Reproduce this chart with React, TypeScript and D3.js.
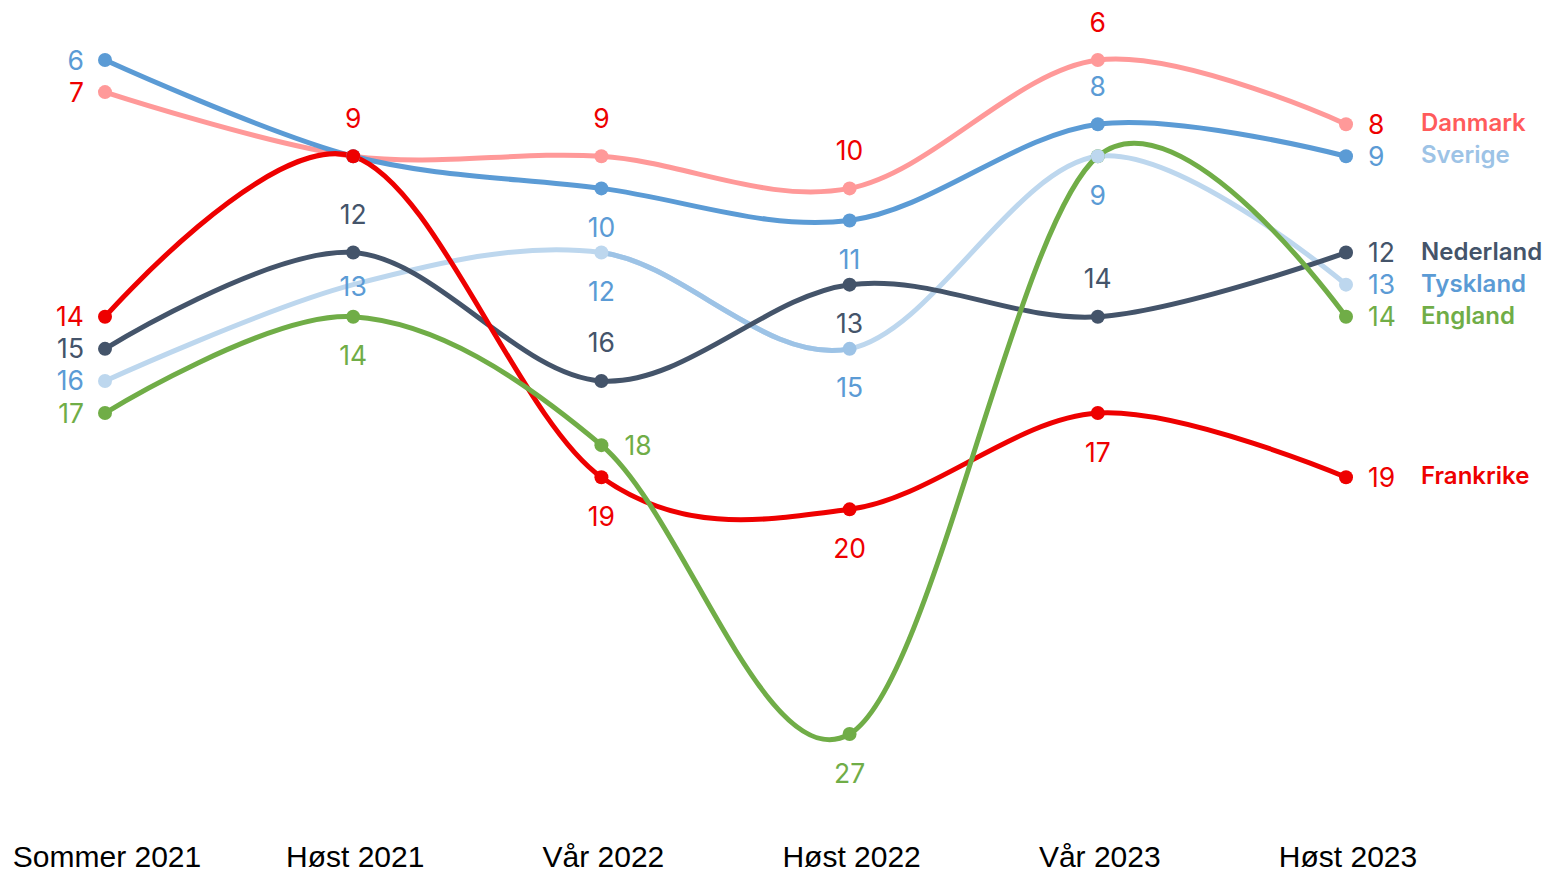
import React from "react";
import * as d3 from "d3";

const periods = ["Sommer 2021", "Høst 2021", "Vår 2022", "Høst 2022", "Vår 2023", "Høst 2023"];

const danmark = [7, 9, 9, 10, 6, 8];
const sverige = [6, 9, 10, 11, 8, 9];
const tyskland = [16, 13, 12, 15, 9, 13];
const nederland = [15, 12, 16, 13, 14, 12];
const england = [17, 14, 18, 27, 9, 14];
const frankrike = [14, 9, 19, 20, 17, 19];

type Pos = "left" | "right" | "above" | "below" | "center" | "none";

interface Series {
  name: string;
  values: number[];
  line: string;
  label: string;
  legend: string;
  pos: Pos[];
  markers: boolean[];
}

const series: Series[] = [
  { name: "Danmark", values: danmark, line: "#ff9999", label: "#ee0000", legend: "#ff5b5b",
    pos: ["left", "none", "above", "above", "above", "right"], markers: [true, true, true, true, true, true] },
  { name: "Sverige", values: sverige, line: "#5b9bd5", label: "#5b9bd5", legend: "#9dc3e6",
    pos: ["left", "none", "below", "below", "above", "right"], markers: [true, true, true, true, true, true] },
  { name: "Tyskland", values: tyskland, line: "#bdd7ee", label: "#5b9bd5", legend: "#5b9bd5",
    pos: ["left", "center", "below", "below", "below", "right"], markers: [true, false, true, true, true, true] },
  { name: "Nederland", values: nederland, line: "#44546a", label: "#44546a", legend: "#44546a",
    pos: ["left", "above", "above", "below", "above", "right"], markers: [true, true, true, true, true, true] },
  { name: "Frankrike", values: frankrike, line: "#ee0000", label: "#ee0000", legend: "#ee0000",
    pos: ["left", "above", "below", "below", "below", "right"], markers: [true, true, true, true, true, true] },
  { name: "England", values: england, line: "#70ad47", label: "#70ad47", legend: "#70ad47",
    pos: ["left", "below", "right", "below", "none", "right"], markers: [true, true, true, true, true, true] },
];

const pointOrder = ["England", "Danmark", "Sverige", "Tyskland", "Nederland", "Frankrike"];

const W = 1548;
const H = 874;

export default function App() {
  const x = d3.scalePoint<string>().domain(periods).range([105, 1346]);
  const y = d3.scaleLinear().domain([6, 27]).range([60, 734]);

  const line = d3
    .line<number>()
    .x((_, i) => x(periods[i]) as number)
    .y((v) => y(v))
    .curve(d3.curveCardinal.tension(0));

  const numFont = "Inter, 'Noto Sans', sans-serif";

  const labelFor = (s: Series, i: number) => {
    const p = s.pos[i];
    if (p === "none") return null;
    const px = x(periods[i]) as number;
    const py = y(s.values[i]);
    let tx = px;
    let cy = py;
    let anchor: "start" | "middle" | "end" = "middle";
    if (p === "left") { tx = 84; anchor = "end"; }
    else if (p === "right") { tx = i === periods.length - 1 ? 1368 : px + 23; anchor = "start"; }
    else if (p === "above") { cy = py - 38; }
    else if (p === "below") { cy = py + 39; }
    else if (p === "center") { cy = py + 2; }
    return (
      <text key={`${s.name}-l-${i}`} x={tx} y={cy + 9.5} textAnchor={anchor}
        fontFamily={numFont} fontSize={26.5} fill={s.label}>
        {s.values[i]}
      </text>
    );
  };

  const xa = x(periods[2]) as number;
  const xb = x(periods[3]) as number;

  return (
    <div style={{ position: "absolute", left: 0, top: 0, width: W, height: H, background: "#fff" }}>
      <svg width={W} height={H} viewBox={`0 0 ${W} ${H}`}>
        <defs>
          <clipPath id="segClip">
            <rect x={xa} y={0} width={xb - xa} height={H} />
          </clipPath>
        </defs>
        {series.map((s) => (
          <g key={s.name}>
            <path d={line(s.values) || ""} fill="none" stroke={s.line} strokeWidth={5} strokeLinecap="round" />
            {s.name === "Tyskland" && (
              <path d={line(s.values) || ""} fill="none" stroke="#9dc3e6" strokeWidth={5} clipPath="url(#segClip)" />
            )}
          </g>
        ))}
        {pointOrder.map((n) => {
          const s = series.find((q) => q.name === n)!;
          return s.values.map((v, i) =>
            s.markers[i] ? (
              <circle key={`${n}-p-${i}`} cx={x(periods[i]) as number} cy={y(v)} r={7}
                fill={s.name === "Tyskland" && i === 3 ? "#9dc3e6" : s.line} />
            ) : null
          );
        })}
        {series.map((s) => s.values.map((_, i) => labelFor(s, i)))}
        {series.map((s) => (
          <text key={`${s.name}-legend`} x={1421} y={y(s.values[s.values.length - 1]) + 7}
            fontFamily={numFont} fontWeight={600} fontSize={24} fill={s.legend}>
            {s.name}
          </text>
        ))}
        {periods.map((p) => (
          <text key={p} x={(x(p) as number) + 2} y={867} textAnchor="middle"
            fontFamily="'Liberation Sans', Arial, sans-serif" fontSize={30} fill="#000">
            {p}
          </text>
        ))}
      </svg>
    </div>
  );
}
